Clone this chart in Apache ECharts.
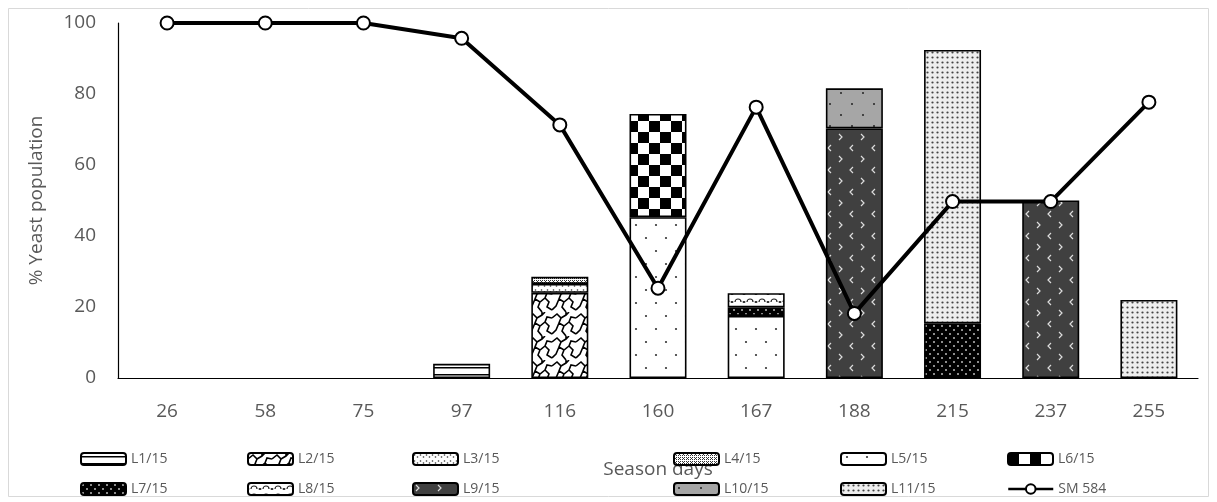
<!DOCTYPE html>
<html>
<head>
<meta charset="utf-8">
<script src="https://cdn.jsdelivr.net/npm/echarts@6/dist/echarts.min.js"></script>
<style>html,body{margin:0;padding:0;background:#fff}#c{width:1217px;height:502px}</style>
</head>
<body>
<div id="c"></div>
<script>
var categories = ['26','58','75','97','116','160','167','188','215','237','255'];
var L1  = [null,null,null,4,null,null,null,null,null,null,null];
var L2  = [null,null,null,null,24,null,null,null,null,null,null];
var L3  = [null,null,null,null,2.5,null,null,null,null,null,null];
var L4  = [null,null,null,null,2,null,null,null,null,null,null];
var L5  = [null,null,null,null,null,45.3,17.5,null,null,null,null];
var L6  = [null,null,null,null,null,29.1,null,null,null,null,null];
var L7  = [null,null,null,null,null,null,2.4,null,15.4,null,null];
var L8  = [null,null,null,null,null,null,4,null,null,null,null];
var L9  = [null,null,null,null,null,null,null,70.3,null,50,null];
var L10 = [null,null,null,null,null,null,null,11.3,null,null,null];
var L11 = [null,null,null,null,null,null,null,null,77,null,22];
var SM584 = [100,100,100,95.7,71.3,25.3,76.3,18.2,49.7,49.7,77.7];
var yTicks = [0,20,40,60,80,100];

function tile(w,h,draw){var c=document.createElement('canvas');c.width=w;c.height=h;var g=c.getContext('2d');draw(g,w,h);return {image:c,repeat:'repeat'};}
function dot(g,x,y,r,col){g.fillStyle=col;g.beginPath();g.arc(x,y,r,0,Math.PI*2);g.fill();}
var P = {
 L1: tile(8,7,function(g,w,h){g.fillStyle='#fff';g.fillRect(0,0,w,h);g.fillStyle='#000';g.fillRect(0,3,w,1.5);}),
 L2: tile(24,24,function(g,w,h){g.fillStyle='#fff';g.fillRect(0,0,w,h);g.strokeStyle='#000';g.lineWidth=1.6;
   g.beginPath();g.moveTo(0,6);g.lineTo(5,2);g.lineTo(9,6);g.lineTo(7,11);g.lineTo(12,14);g.lineTo(17,10);g.lineTo(21,14);g.lineTo(19,19);g.lineTo(24,22);
   g.moveTo(12,14);g.lineTo(10,19);g.lineTo(14,24);g.moveTo(9,6);g.lineTo(14,3);g.lineTo(17,0);g.moveTo(17,10);g.lineTo(19,5);g.lineTo(24,6);
   g.moveTo(0,22);g.lineTo(4,18);g.lineTo(7,11);g.moveTo(14,0);g.lineTo(14,3);g.stroke();}),
 L3: tile(12,6,function(g,w,h){g.fillStyle='#fff';g.fillRect(0,0,w,h);dot(g,1.5,2,0.8,'#333');dot(g,4.5,4,0.8,'#333');dot(g,7.5,2,0.8,'#333');dot(g,10.5,4,0.8,'#333');}),
 L4: tile(4,4,function(g,w,h){g.fillStyle='#fff';g.fillRect(0,0,w,h);g.fillStyle='#333';g.fillRect(0,0,1,1);g.fillRect(2,2,1,1);g.fillRect(2,0,1,1);g.fillRect(0,2,1,1);g.fillRect(1,1,1,1);}),
 L5: tile(20,26,function(g,w,h){g.fillStyle='#fff';g.fillRect(0,0,w,h);dot(g,6,4,1.1,'#333');dot(g,16,17,1.1,'#333');}),
 L6: tile(22,22,function(g,w,h){g.fillStyle='#fff';g.fillRect(0,0,w,h);g.fillStyle='#000';g.fillRect(0,0,11,11);g.fillRect(11,11,11,11);}),
 L7: tile(8,8,function(g,w,h){g.fillStyle='#000';g.fillRect(0,0,w,h);dot(g,2,2,1,'#bbb');dot(g,6,6,1,'#bbb');}),
 L8: tile(12,8,function(g,w,h){g.fillStyle='#fff';g.fillRect(0,0,w,h);g.strokeStyle='#222';g.lineWidth=1.2;g.beginPath();g.arc(6,6,3,Math.PI,0);g.stroke();dot(g,0.5,6,0.9,'#222');dot(g,11.5,6,0.9,'#222');}),
 L9: tile(22,22,function(g,w,h){g.fillStyle='#404040';g.fillRect(0,0,w,h);g.strokeStyle='#ddd';g.lineWidth=1.2;g.beginPath();g.moveTo(3,2);g.lineTo(6,5);g.lineTo(3,8);g.moveTo(17,13);g.lineTo(14,16);g.lineTo(17,19);g.stroke();}),
 L10: tile(22,22,function(g,w,h){g.fillStyle='#a6a6a6';g.fillRect(0,0,w,h);dot(g,5,5,1,'#222');dot(g,16,16,1,'#222');}),
 L11: tile(5,5,function(g,w,h){g.fillStyle='#eee';g.fillRect(0,0,w,h);dot(g,2.5,2.5,1.1,'#444');})
};

var barData = {L1:L1,L2:L2,L3:L3,L4:L4,L5:L5,L6:L6,L7:L7,L8:L8,L9:L9,L10:L10,L11:L11};
var names = ['L1','L2','L3','L4','L5','L6','L7','L8','L9','L10','L11'];
var series = names.map(function(k){
  return {name:k+'/15',type:'bar',stack:'s',barWidth:57,data:barData[k],
    itemStyle:{color:P[k],borderColor:'#000',borderWidth:1.6},emphasis:{disabled:true}};
});
series.push({name:'SM 584',type:'line',data:SM584,z:10,symbol:'circle',symbolSize:13,
  lineStyle:{color:'#000',width:4},itemStyle:{color:'#fff',borderColor:'#000',borderWidth:2},emphasis:{disabled:true}});

var legendPos = [[75,447],[242,447],[407,447],[668,447],[835,447],[1002,447],
                 [75,477],[242,477],[407,477],[668,477],[835,477],[1002,477]];
var order = ['L1/15','L2/15','L3/15','L4/15','L5/15','L6/15','L7/15','L8/15','L9/15','L10/15','L11/15','SM 584'];
var legends = order.map(function(n,i){
  var isLine = n==='SM 584';
  return {data:[n],left:legendPos[i][0],top:legendPos[i][1],itemWidth:45,itemHeight:12,itemGap:4,
    selectedMode:false,textStyle:{color:'#595959',fontSize:14,fontFamily:'Open Sans'},
    itemStyle:isLine?{color:'#fff',borderColor:'#000',borderWidth:2}:{borderColor:'#000',borderWidth:2},
    lineStyle:isLine?{color:'#000',width:2.5}:undefined};
});

var chart = echarts.init(document.getElementById('c'),null,{renderer:'canvas'});
chart.setOption({
  animation:false,
  backgroundColor:'#fff',
  graphic:[{type:'rect',shape:{x:8.5,y:8.5,width:1200,height:488},style:{fill:'none',stroke:'#d9d9d9',lineWidth:1}}],
  grid:{left:118,right:19,top:23,bottom:124},
  legend:legends,
  xAxis:{type:'category',data:categories,
    axisLine:{lineStyle:{color:'#000',width:1.2}},axisTick:{show:false},
    axisLabel:{color:'#595959',fontSize:19,fontFamily:'Open Sans',margin:24},
    name:'Season days',nameLocation:'middle',nameGap:82,nameTextStyle:{color:'#595959',fontSize:19,fontFamily:'Open Sans'}},
  yAxis:{type:'value',min:0,max:100,interval:20,
    axisLine:{show:true,lineStyle:{color:'#000',width:1.2}},axisTick:{show:false},splitLine:{show:false},
    axisLabel:{color:'#595959',fontSize:19,fontFamily:'Open Sans',margin:22},
    name:'% Yeast population',nameLocation:'middle',nameGap:72,nameTextStyle:{color:'#595959',fontSize:19,fontFamily:'Open Sans'}},
  series:series
});
</script>
</body>
</html>
